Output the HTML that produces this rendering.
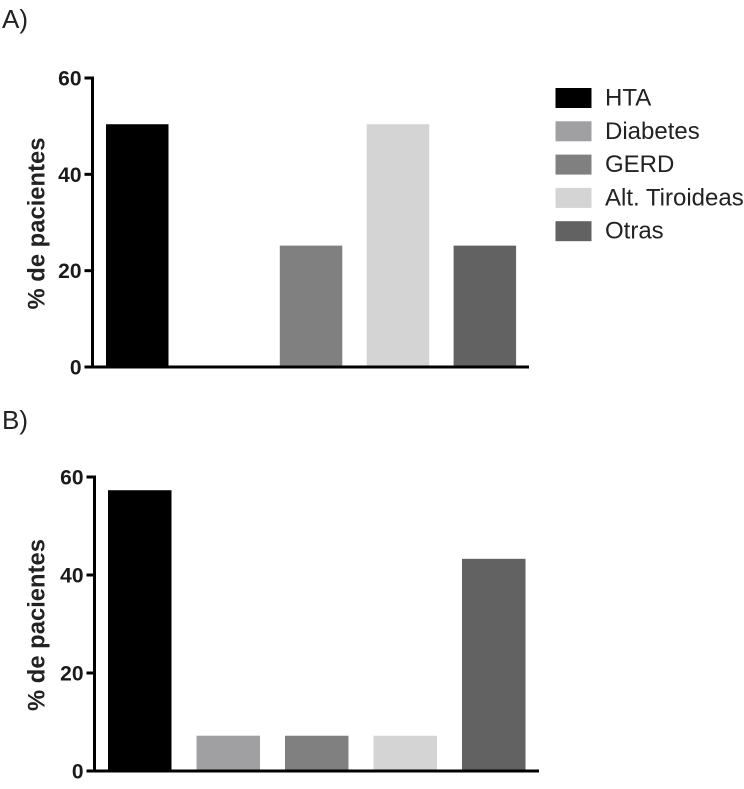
<!DOCTYPE html>
<html>
<head>
<meta charset="utf-8">
<style>
html,body{margin:0;padding:0;background:#fff;width:744px;height:789px;overflow:hidden}
svg{display:block;font-family:"Liberation Sans",sans-serif}
.tick{font-size:21px;font-weight:bold;fill:#1a1a1a;text-anchor:end}
.ytitle{font-size:23.8px;font-weight:bold;fill:#222;text-anchor:middle}
.panel{font-size:26px;fill:#222}
.leg{font-size:24px;fill:#222}
</style>
</head>
<body>
<svg id="chart" width="744" height="789" viewBox="0 0 744 789" xmlns="http://www.w3.org/2000/svg"></svg>
<script>
const categories = ["HTA", "Diabetes", "GERD", "Alt. Tiroideas", "Otras"];
const seriesA = [50.4, 0, 25.2, 50.4, 25.2];
const seriesB = [57.3, 7.2, 7.2, 7.2, 43.3];
const tickValues = [0, 20, 40, 60];
const yMax = 60;
const colors = ["#000000", "#a0a0a3", "#808080", "#d4d4d4", "#626262"];

const svg = document.getElementById('chart');
const NS = 'http://www.w3.org/2000/svg';
function make(tag, attrs, parent, text) {
  const el = document.createElementNS(NS, tag);
  for (const k in attrs) el.setAttribute(k, attrs[k]);
  if (text !== undefined) el.textContent = text;
  parent.appendChild(el);
  return el;
}
function drawPanel(id, values, label, labelY, geom) {
  const g = make('g', {}, svg);
  
  
  const yScale = v => geom.y0 - (v / yMax) * (geom.y0 - geom.y60);
  const xScale = i => geom.firstBar + i * geom.step;

  const title = make('text', {class: 'panel', x: 2, y: labelY}, g, label);
  
  

  values.forEach((v, i) => {
    const bar = make('rect', {
      x: xScale(i), y: yScale(v), width: geom.barWidth,
      height: geom.y0 - yScale(v), fill: colors[i]
    }, g);
    
    
  });

  const yAxis = make('line', {x1: geom.spine, x2: geom.spine, y1: geom.y60 - 1.5, y2: geom.y0 + 1.5, stroke: '#000', 'stroke-width': 3}, g);
  
  

  const xAxis = make('line', {x1: geom.spine - 8, x2: geom.xEnd, y1: geom.y0, y2: geom.y0, stroke: '#000', 'stroke-width': 3}, g);
  
  

  tickValues.forEach(t => {
    const y = yScale(t);
    const mark = make('line', {x1: geom.spine - 8, x2: geom.spine, y1: y, y2: y, stroke: '#000', 'stroke-width': 3}, g);
    
    
    const txt = make('text', {class: 'tick', x: geom.spine - 11, y: y + 7.5}, g, String(t));
    
    
  });

  const cy = geom.titleY;
  const yt = make('text', {class: 'ytitle', x: 44.5, y: cy, transform: 'rotate(-90 44.5 ' + cy + ')'}, g, '% de pacientes');
  
  
}

drawPanel('a', seriesA, 'A)', 28, {y0: 367, y60: 78, spine: 92.5, firstBar: 106, step: 86.9, barWidth: 62.5, xEnd: 529, titleY: 223.5});
drawPanel('b', seriesB, 'B)', 429, {y0: 771, y60: 477, spine: 94.5, firstBar: 108, step: 88.5, barWidth: 63.5, xEnd: 539, titleY: 625});

const legend = make('g', {}, svg);


categories.forEach((c, i) => {
  const y = 88 + i * 33.3;
  const sw = make('rect', {x: 555.5, y: y, width: 36, height: 20, fill: colors[i]}, legend);
  
  
  const t = make('text', {class: 'leg', x: 605, y: y + 17.5}, legend, c);
  
  
});
</script>
</body>
</html>
